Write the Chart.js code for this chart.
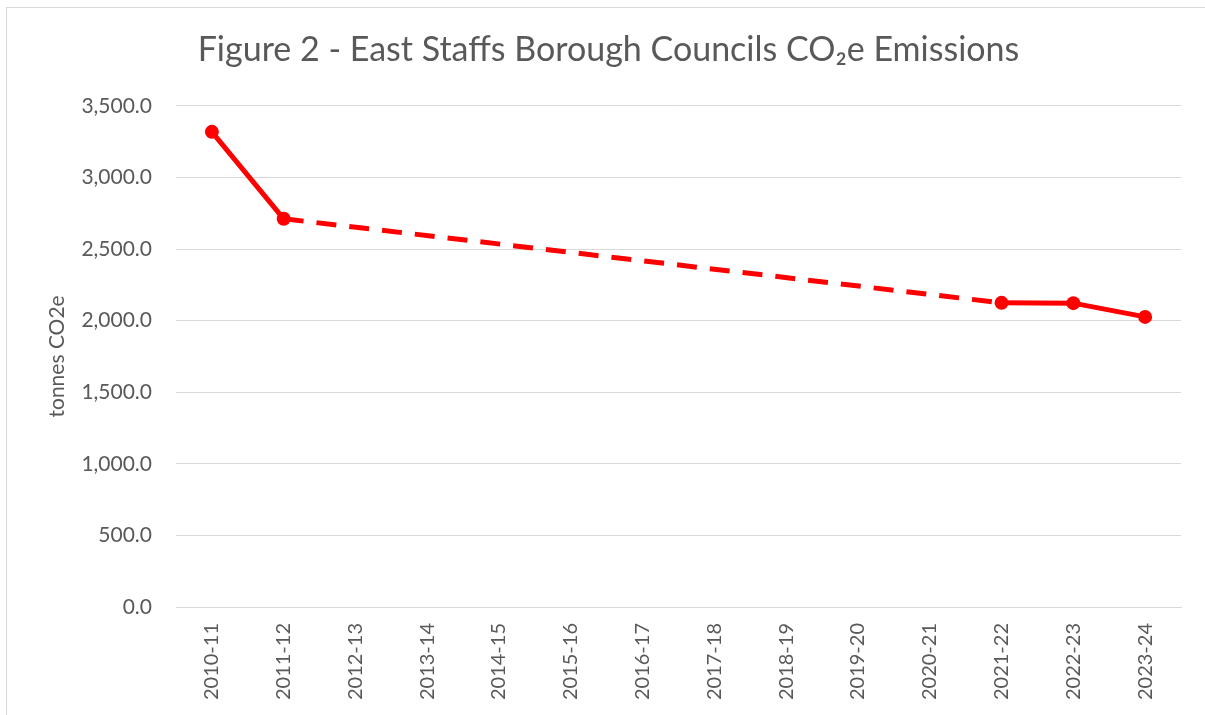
<!DOCTYPE html>
<html>
<head>
<meta charset="utf-8">
<script src="https://cdn.jsdelivr.net/npm/chart.js@4/dist/chart.umd.min.js"></script>
<style>
html,body{margin:0;padding:0;background:#fff;}
#wrap{width:1205px;height:715px;position:relative;}
</style>
</head>
<body>
<div id="wrap"><canvas id="c" width="1205" height="715"></canvas></div>
<script>
const categories = ["2010-11","2011-12","2012-13","2013-14","2014-15","2015-16","2016-17","2017-18","2018-19","2019-20","2020-21","2021-22","2022-23","2023-24"];
const emissions = [3318, 2711, null, null, null, null, null, null, null, null, null, 2124, 2122, 2026];
const yTicks = [0, 500, 1000, 1500, 2000, 2500, 3000, 3500];
const titleText = "Figure 2 - East Staffs Borough Councils CO\u2082e Emissions";
const yTitle = "tonnes CO2e";

const FONT = "Lato, 'Open Sans', sans-serif";
const GREY = "#595959";

const borderPlugin = {
  id: 'frame',
  afterDraw(chart) {
    const ctx = chart.ctx;
    ctx.save();
    ctx.strokeStyle = '#d9d9d9';
    ctx.lineWidth = 1;
    ctx.strokeRect(6.5, 7.5, 1210, 720);
    ctx.restore();
  }
};

const skipped = (ctx, value) => (ctx.p0.skip || ctx.p1.skip) ? value : undefined;

new Chart(document.getElementById('c'), {
  type: 'line',
  data: {
    labels: categories,
    datasets: [{
      data: emissions,
      borderColor: '#ff0000',
      backgroundColor: '#ff0000',
      borderWidth: 5,
      pointRadius: 7,
      pointHoverRadius: 7,
      pointBorderWidth: 0,
      tension: 0,
      spanGaps: true,
      segment: {
        borderDash: ctx => skipped(ctx, [20, 13])
      }
    }]
  },
  options: {
    responsive: false,
    animation: false,
    devicePixelRatio: 1,
    layout: { padding: { top: 10, right: 24, bottom: 0, left: 36 } },
    plugins: {
      legend: { display: false },
      tooltip: { enabled: false },
      title: {
        display: true,
        text: titleText,
        color: GREY,
        font: { family: FONT, size: 34, weight: 'normal' },
        padding: { top: 20, bottom: 35 }
      }
    },
    scales: {
      x: {
        offset: true,
        grid: { display: false, drawTicks: false },
        border: { display: true, color: '#d9d9d9', width: 1 },
        ticks: {
          color: GREY,
          font: { family: FONT, size: 20 },
          maxRotation: 90, minRotation: 90,
          autoSkip: false,
          padding: 16
        },
        afterFit(scale) { scale.height = 108; }
      },
      y: {
        min: 0, max: 3500,
        afterBuildTicks(scale) { scale.ticks = yTicks.map(v => ({ value: v })); },
        grid: { color: '#d9d9d9', lineWidth: 1, drawTicks: false },
        border: { display: false },
        ticks: {
          color: GREY,
          font: { family: FONT, size: 21 },
          padding: 24,
          callback: v => v.toLocaleString('en-GB', { minimumFractionDigits: 1, maximumFractionDigits: 1 })
        },
        title: {
          display: true,
          text: yTitle,
          color: GREY,
          font: { family: FONT, size: 21, weight: 'normal' },
          padding: { top: 9, bottom: 0 }
        },
        afterFit(scale) { scale.width = 140; }
      }
    }
  },
  plugins: [borderPlugin]
});
</script>
</body>
</html>
